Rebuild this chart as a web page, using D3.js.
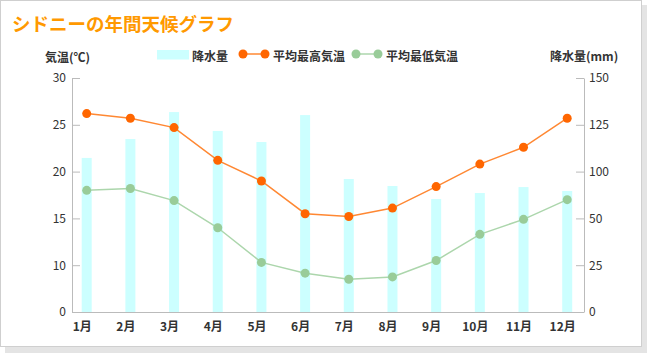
<!DOCTYPE html>
<html><head><meta charset="utf-8">
<script src="https://cdn.jsdelivr.net/npm/d3@7"></script>
<style>
body{margin:0;background:#fff;}
svg{display:block;}
text{font-family:"Noto Sans CJK JP","Noto Sans",sans-serif;}
</style>
</head><body>
<svg id="c" width="650" height="357"></svg>
<script>
const months = ["1月","2月","3月","4月","5月","6月","7月","8月","9月","10月","11月","12月"];
const rainfall = [107.3,117.4,131.8,121.7,115.8,130.2,92.1,84.6,70.7,77.1,83.5,79.3];
const highTemp = [26.2,25.7,24.7,21.2,19.0,15.5,15.2,16.1,18.4,20.8,22.6,25.7];
const lowTemp = [18.0,18.2,16.9,14.0,10.3,8.3,7.0,7.5,10.5,13.3,14.9,17.0];
const tempTicks = [0,10,15,20,25,30];
const rainTicks = [0,25,50,100,125,150];

const svg = d3.select("#c");
const L = 72, R = 584, T = 78, B = 312;
const step = (B - T) / (tempTicks.length - 1);

// card with shadow
svg.append("rect").attr("x",5).attr("y",5).attr("width",642).attr("height",348).attr("fill","#e4e4e4");
svg.append("rect").attr("x",0.5).attr("y",0.5).attr("width",641).attr("height",346).attr("fill","#fff").attr("stroke","#cfcfcf");

svg.append("text").attr("x",12).attr("y",22.5).attr("dominant-baseline","central")
  .attr("font-size",18.5).attr("font-weight","bold").attr("fill","#ff9900").text("シドニーの年間天候グラフ");

const x = d3.scalePoint().domain(months).range([86.7, 567.2]);
const yT = d3.scaleLinear().domain(tempTicks).range(tempTicks.map((d,i)=>B - i*step));
const yR = d3.scaleLinear().domain(rainTicks).range(rainTicks.map((d,i)=>B - i*step));

// bars
svg.append("g").selectAll("rect").data(rainfall).join("rect")
  .attr("x",(d,i)=>x(months[i])-5).attr("width",10)
  .attr("y",d=>yR(d)).attr("height",d=>B-yR(d)).attr("fill","#ccffff");

// axes
const axL = svg.append("g").attr("transform",`translate(${L},0)`)
  .call(d3.axisLeft(yT).tickValues(tempTicks).tickFormat(d3.format("d")).tickSize(-8).tickSizeOuter(0).tickPadding(6));
const axR = svg.append("g").attr("transform",`translate(${R},0)`)
  .call(d3.axisRight(yR).tickValues(rainTicks).tickFormat(d3.format("d")).tickSize(-8).tickSizeOuter(0).tickPadding(5));
const axB = svg.append("g").attr("transform",`translate(0,${B})`)
  .call(d3.axisBottom(x).tickSize(0).tickPadding(10));
axB.select(".domain").attr("d",`M${L},0.5H${R}`);
[axL,axR,axB].forEach(a=>{
  a.select(".domain").attr("stroke","#bbb");
  a.selectAll(".tick line").attr("stroke","#bbb");
  a.selectAll("text").attr("fill","#333").attr("font-size",12).style("font-family",'"Noto Sans CJK JP",sans-serif');
});
axB.selectAll("text").attr("font-weight","bold").attr("dx",-5);

// lines
const lineT = d3.line().x((d,i)=>x(months[i])).y(d=>yT(d));
svg.append("path").datum(lowTemp).attr("d",lineT).attr("fill","none").attr("stroke","#acd6ac").attr("stroke-width",1.5);
svg.append("path").datum(highTemp).attr("d",lineT).attr("fill","none").attr("stroke","#ff8833").attr("stroke-width",1.5);
svg.append("g").selectAll("circle").data(lowTemp).join("circle")
  .attr("cx",(d,i)=>x(months[i])).attr("cy",d=>yT(d)).attr("r",4.5).attr("fill","#99cc99");
svg.append("g").selectAll("circle").data(highTemp).join("circle")
  .attr("cx",(d,i)=>x(months[i])).attr("cy",d=>yT(d)).attr("r",4.5).attr("fill","#ff6600");

// axis titles
svg.append("text").attr("x",45).attr("y",56).attr("dominant-baseline","central").attr("font-size",12).attr("font-weight","bold").attr("fill","#333").text("気温(℃)");
svg.append("text").attr("x",550).attr("y",55).attr("dominant-baseline","central").attr("font-size",12).attr("font-weight","bold").attr("fill","#333").text("降水量(mm)");

// legend
const lg = svg.append("g");
lg.append("rect").attr("x",157).attr("y",50).attr("width",32).attr("height",9.5).attr("fill","#ccffff");
lg.append("text").attr("x",192).attr("y",55).attr("dominant-baseline","central").attr("font-size",12).attr("font-weight","bold").attr("fill","#333").text("降水量");
[[243,265,273,"#ff8833","#ff6600","平均最高気温"],[356,378,386,"#acd6ac","#99cc99","平均最低気温"]].forEach(([a,b,t,lc,pc,label])=>{
  lg.append("line").attr("x1",a).attr("x2",b).attr("y1",54).attr("y2",54).attr("stroke",lc).attr("stroke-width",1.5);
  lg.append("circle").attr("cx",a).attr("cy",54).attr("r",4.5).attr("fill",pc);
  lg.append("circle").attr("cx",b).attr("cy",54).attr("r",4.5).attr("fill",pc);
  lg.append("text").attr("x",t).attr("y",55).attr("dominant-baseline","central").attr("font-size",12).attr("font-weight","bold").attr("fill","#333").text(label);
});
</script>
</body></html>
